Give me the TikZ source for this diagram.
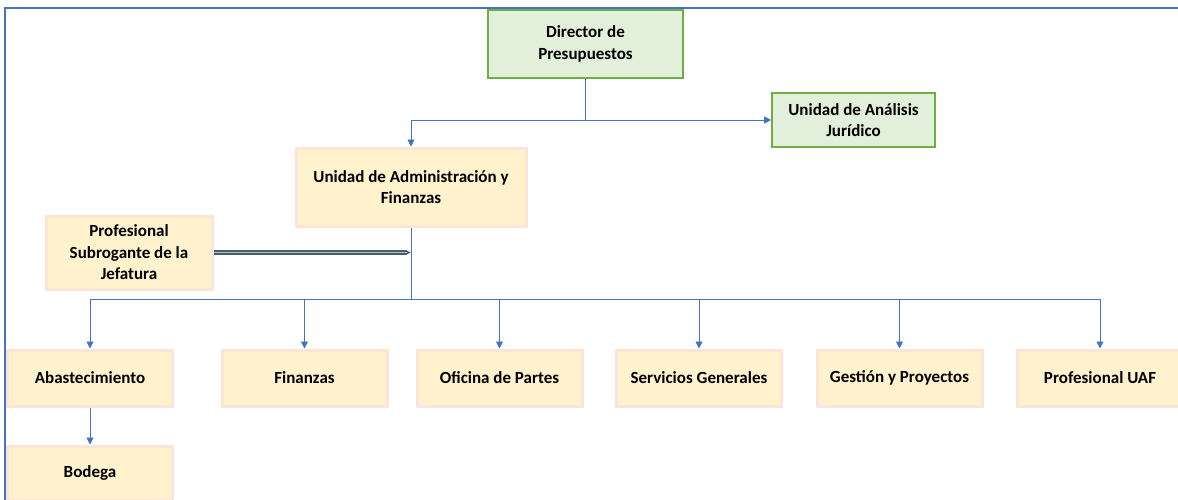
\documentclass[tikz,border=0pt]{standalone}
\usepackage{fontspec}
\setmainfont{Carlito}
\usetikzlibrary{arrows.meta, positioning}
\definecolor{orgblue}{RGB}{68,114,196}
\definecolor{orggreen}{RGB}{112,173,71}
\definecolor{orggreenlight}{RGB}{226,239,218}
\definecolor{orgpeach}{RGB}{251,229,214}
\definecolor{orgcream}{RGB}{255,242,204}
\definecolor{orgslate}{RGB}{72,92,120}
\definecolor{orgmint}{RGB}{169,208,142}

\begin{document}
\begin{tikzpicture}[x=1pt, y=-1pt, font=\fontsize{17}{21.5}\selectfont\bfseries,
		dir/.style={draw=orggreen, fill=orggreenlight, line width=1.6pt,
		            inner sep=0pt, align=center},
		unit/.style={draw=orgpeach, fill=orgcream, line width=3pt,
		             inner sep=0pt, align=center},
		leaf/.style={unit, minimum width=165pt, minimum height=56pt},
		conn/.style={orgblue, line width=0.9pt},
		arr/.style={conn, -{Triangle[length=7pt, width=7pt]}},
		subarr/.style={draw=orgslate, double=orgmint, double distance=1.4pt,
		               line width=1.4pt, -{Latex[length=4pt, width=4pt]}}]
		\useasboundingbox (0,0) rectangle (1178,499);
		\draw[orgblue, line width=2pt] (1180,8) -- (5,8) -- (5,502);
		% jefatura
		\node[dir, minimum width=195pt, minimum height=68pt] (dir) at (585.5,44) {Director de\\Presupuestos};
		\node[dir, minimum width=163pt, minimum height=54pt] (jur) at (853.5,120) {Unidad de Análisis\\Jurídico};
		\node[unit, minimum width=230pt, minimum height=78pt] (uaf) at (411,187) {Unidad de Administración y\\Finanzas};
		\node[unit, minimum width=166pt, minimum height=73pt] (sub) at (129,252.5) {Profesional\\Subrogante de la\\Jefatura};
		% areas
		\node[leaf] (abas) at (90,378) {Abastecimiento};
		\node[leaf] (fin) at (304.5,378) {Finanzas};
		\node[leaf] (ofi) at (499.5,378) {Oficina de Partes};
		\node[leaf] (serv) at (699,378) {Servicios Generales};
		\node[leaf] (gest) at (899.5,378) {Gestión y Proyectos};
		\node[leaf] (prof) at (1100,378) {Profesional UAF};
		\node[leaf, minimum height=54pt] (bod) at (90,473) {Bodega};
		% conectores
		\coordinate (split) at (dir.south |- jur.west);
		\coordinate (bus) at (411,299);
		\draw[conn] (dir.south) -- (split);
		\draw[arr] (split) -- (jur.west);
		\draw[arr] (split) -| (uaf.north);
		\draw[conn] (uaf.south) -- (bus);
		\draw[subarr] (sub.east) -- (sub.east -| uaf.south);
		\draw[arr] (bus) -| (abas.north);
		\draw[arr] (bus) -| (fin.north);
		\draw[arr] (bus) -| (ofi.north);
		\draw[arr] (bus) -| (serv.north);
		\draw[arr] (bus) -| (gest.north);
		\draw[arr] (bus) -| (prof.north);
		\draw[arr] (abas) -- (bod);
	\end{tikzpicture}
\end{document}
